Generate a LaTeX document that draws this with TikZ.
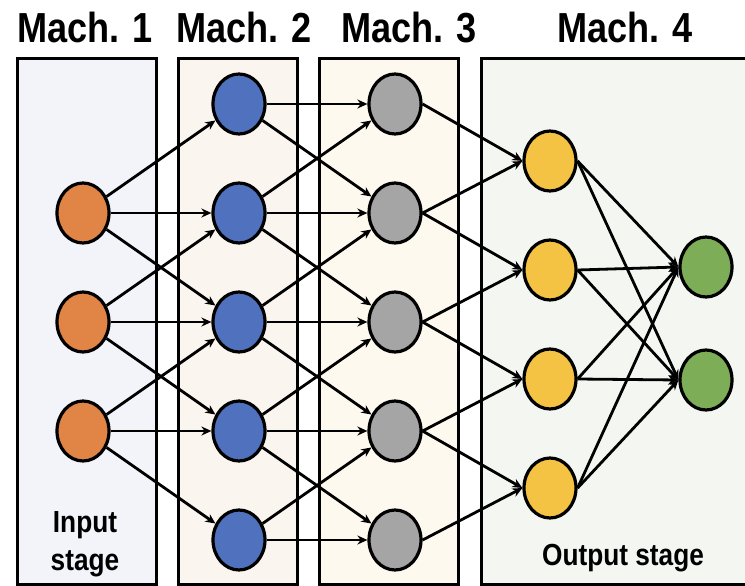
\documentclass[tikz,border=0pt]{standalone}
\usepackage{fontspec}
\usetikzlibrary{shapes.geometric,arrows.meta}
\newfontfamily\machfont[FakeStretch=0.86]{Liberation Sans}
\definecolor{stageBlue}{HTML}{F2F4FA}
\definecolor{stageRose}{HTML}{FAF5EF}
\definecolor{stageCream}{HTML}{FEF9EE}
\definecolor{stageGreen}{HTML}{F4F7F1}
\definecolor{inOrange}{HTML}{E08545}
\definecolor{hidBlue}{HTML}{4F71BE}
\definecolor{hidGray}{HTML}{A5A5A5}
\definecolor{outYellow}{HTML}{F4C343}
\definecolor{outGreen}{HTML}{7DAD57}
\tikzset{
    stagebox/.style={line width=3pt},
    neuron/.style={ellipse, draw, line width=3.2pt, minimum width=52pt, minimum height=60pt, inner sep=0pt},
    link/.style={line width=2.8pt, -{Stealth[length=10pt,width=9pt]}},
    machtitle/.style={anchor=base, font=\machfont\bfseries\fontsize{42}{42}\selectfont},
    stagelabel/.style={anchor=base, align=center, font=\machfont\bfseries\fontsize{30.5}{38}\selectfont}
}
\begin{document}
\begin{tikzpicture}[x=1pt,y=-1pt]
        \useasboundingbox (0,0) rectangle (745,586);
        % stage boxes
        \draw[stagebox, fill=stageBlue] (17,59) rectangle (156,584);
        \draw[stagebox, fill=stageRose] (178,59) rectangle (297,584);
        \draw[stagebox, fill=stageCream] (319,59) rectangle (458,584);
        \draw[stagebox, fill=stageGreen] (481,59) rectangle (760,584);

        % titles
        \node[machtitle] (t1) at (85,43) {Mach. 1};
        \node[machtitle] (t2) at (244,43) {Mach. 2};
        \node[machtitle] (t3) at (409,43) {Mach. 3};
        \node[machtitle] (t4) at (625,43) {Mach. 4};
        \node[stagelabel] (inlabel) at (85,570) {Input\\stage};
        \node[stagelabel] (outlabel) at (623,565) {Output stage};

        % Mach. 1
        \node[neuron, fill=inOrange] (o1) at (83,213) {};
        \node[neuron, fill=inOrange] (o2) at (83,322) {};
        \node[neuron, fill=inOrange] (o3) at (83,431) {};
        % Mach. 2
        \node[neuron, fill=hidBlue] (b1) at (239,104) {};
        \node[neuron, fill=hidBlue] (b2) at (239,213) {};
        \node[neuron, fill=hidBlue] (b3) at (239,322) {};
        \node[neuron, fill=hidBlue] (b4) at (239,431) {};
        \node[neuron, fill=hidBlue] (b5) at (239,540) {};
        % Mach. 3
        \node[neuron, fill=hidGray] (g1) at (395,104) {};
        \node[neuron, fill=hidGray] (g2) at (395,213) {};
        \node[neuron, fill=hidGray] (g3) at (395,322) {};
        \node[neuron, fill=hidGray] (g4) at (395,431) {};
        \node[neuron, fill=hidGray] (g5) at (395,540) {};
        % Mach. 4
        \node[neuron, fill=outYellow] (y1) at (550,161) {};
        \node[neuron, fill=outYellow] (y2) at (550,270) {};
        \node[neuron, fill=outYellow] (y3) at (550,379) {};
        \node[neuron, fill=outYellow] (y4) at (550,488) {};
        \node[neuron, fill=outGreen] (gr1) at (706,267) {};
        \node[neuron, fill=outGreen] (gr2) at (706,380) {};

        % Mach. 1 -> Mach. 2
        \draw[link] (o1) -- (b1);
        \draw[link] (o1) -- (b2);
        \draw[link] (o1) -- (b3);
        \draw[link] (o2) -- (b2);
        \draw[link] (o2) -- (b3);
        \draw[link] (o2) -- (b4);
        \draw[link] (o3) -- (b3);
        \draw[link] (o3) -- (b4);
        \draw[link] (o3) -- (b5);

        % Mach. 2 -> Mach. 3
        \draw[link] (b1) -- (g1);
        \draw[link] (b1) -- (g2);
        \draw[link] (b2) -- (g1);
        \draw[link] (b2) -- (g2);
        \draw[link] (b2) -- (g3);
        \draw[link] (b3) -- (g2);
        \draw[link] (b3) -- (g3);
        \draw[link] (b3) -- (g4);
        \draw[link] (b4) -- (g3);
        \draw[link] (b4) -- (g4);
        \draw[link] (b4) -- (g5);
        \draw[link] (b5) -- (g4);
        \draw[link] (b5) -- (g5);

        % Mach. 3 -> Mach. 4
        \draw[link] (g1.east) -- (y1.west);
        \draw[link] (g2.east) -- (y1.west);
        \draw[link] (g2.east) -- (y2.west);
        \draw[link] (g3.east) -- (y2.west);
        \draw[link] (g3.east) -- (y3.west);
        \draw[link] (g4.east) -- (y3.west);
        \draw[link] (g4.east) -- (y4.west);
        \draw[link] (g5.east) -- (y4.west);

        % output stage
        \draw[link] (y1.east) -- (gr1.west);
        \draw[link] (y1.east) -- (gr2.west);
        \draw[link] (y2.east) -- (gr1.west);
        \draw[link] (y2.east) -- (gr2.west);
        \draw[link] (y3.east) -- (gr1.west);
        \draw[link] (y3.east) -- (gr2.west);
        \draw[link] (y4.east) -- (gr1.west);
        \draw[link] (y4.east) -- (gr2.west);

    \end{tikzpicture}
\end{document}
